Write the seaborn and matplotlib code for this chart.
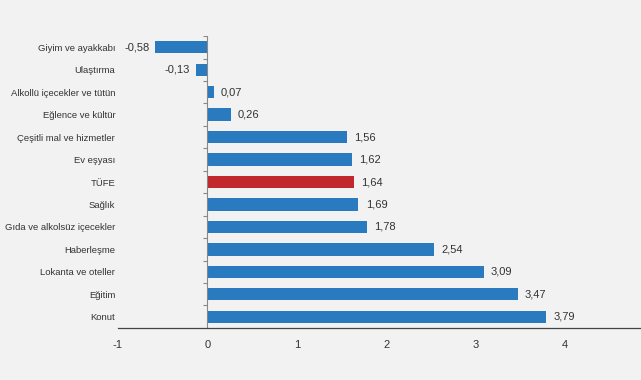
import numpy as np
import pandas as pd
import matplotlib
matplotlib.use("Agg")
import matplotlib.pyplot as plt
import seaborn as sns

categories = ["Giyim ve ayakkabı", "Ulaştırma", "Alkollü içecekler ve tütün",
              "Eğlence ve kültür", "Çeşitli mal ve hizmetler", "Ev eşyası", "TÜFE",
              "Sağlık", "Gıda ve alkolsüz içecekler", "Haberleşme",
              "Lokanta ve oteller", "Eğitim", "Konut"]
values = [-0.58, -0.13, 0.07, 0.26, 1.56, 1.62, 1.64, 1.69, 1.78, 2.54, 3.09, 3.47, 3.79]
xticks = [-1, 0, 1, 2, 3, 4]

sns.set_style("white")
plt.rcParams['font.family'] = ['Liberation Sans', 'DejaVu Sans']

df = pd.DataFrame({"kategori": categories, "deger": values})
blue, red = "#2a7ac0", "#c1272d"
pal = {c: (red if c == "TÜFE" else blue) for c in categories}

fig = plt.figure(figsize=(6.41, 3.80), dpi=100, facecolor="#f2f2f2")
ax = fig.add_axes([0.184, 0.137, 0.816, 0.768])
ax.set_facecolor("#f2f2f2")

sns.barplot(data=df, x="deger", y="kategori", hue="kategori", palette=pal,
            order=categories, width=0.55, legend=False, ax=ax, saturation=1,
            linewidth=0)

ax.set_xlim(-1, 4.85)
ax.set_ylim(len(categories) - 0.5, -0.5)
ax.axvline(0, color="#888888", lw=0.8)
# small category tick marks on the zero axis
ax.hlines(np.arange(len(categories)) - 0.5, -0.05, 0, color="#888888", lw=0.8)
for s in ["top", "right", "left"]:
    ax.spines[s].set_visible(False)
ax.spines["bottom"].set_color("#444444")
ax.spines["bottom"].set_linewidth(0.9)

ax.set_xticks(xticks)
ax.set_xticklabels([str(t) for t in xticks], fontsize=8, color="#333333")
ax.tick_params(axis="x", length=3, color="#666666", pad=6)
ax.tick_params(axis="y", length=0, pad=2, labelsize=6.8, labelcolor="#333333")
ax.set_xlabel("")
ax.set_ylabel("")

for i, v in enumerate(values):
    txt = f"{v:.2f}".replace(".", ",")
    if v < 0:
        ax.text(v - 0.06, i, txt, ha="right", va="center", fontsize=8, color="#333333")
    else:
        ax.text(v + 0.08, i, txt, ha="left", va="center", fontsize=8, color="#333333")

fig.savefig("out.png", dpi=100, facecolor=fig.get_facecolor())
